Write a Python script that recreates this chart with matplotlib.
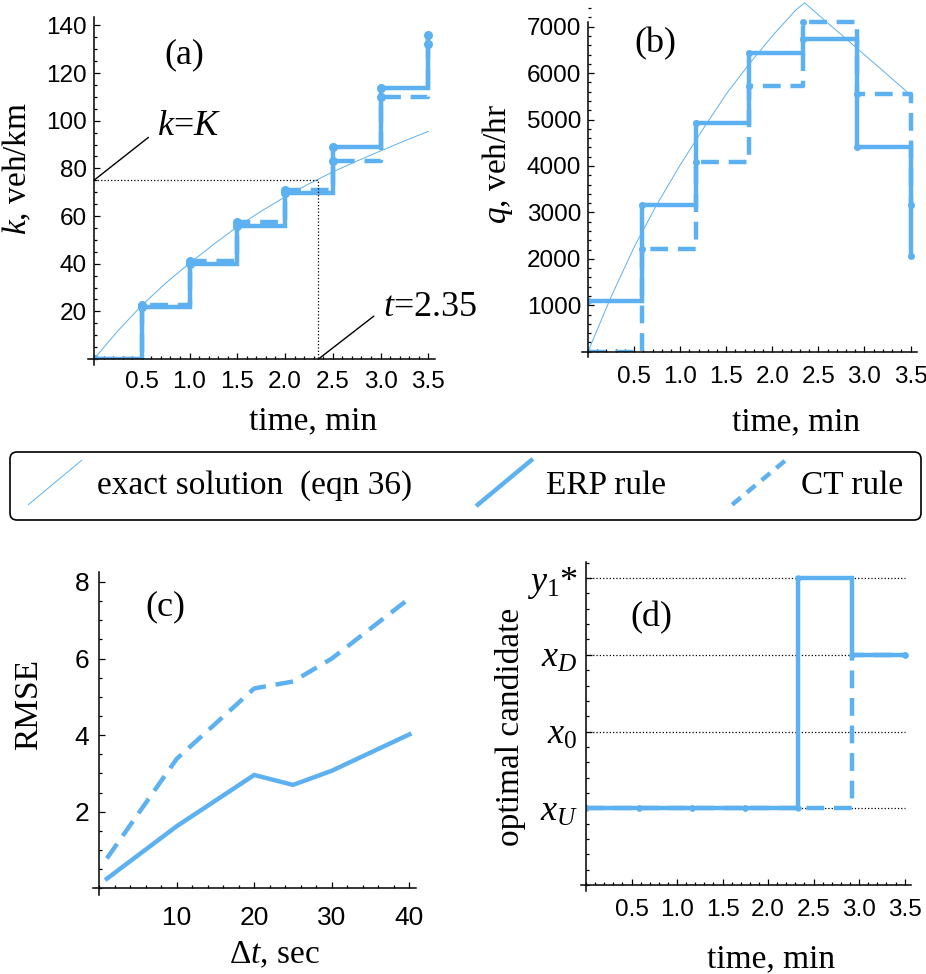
import matplotlib
matplotlib.use('Agg')
import matplotlib.pyplot as plt
from matplotlib.ticker import MultipleLocator
from matplotlib.legend_handler import HandlerBase
from matplotlib.lines import Line2D

plt.rcParams['font.family'] = 'Liberation Serif'
plt.rcParams['mathtext.fontset'] = 'custom'
plt.rcParams['mathtext.rm'] = 'Liberation Serif'
plt.rcParams['mathtext.it'] = 'Liberation Serif:italic'

BLUE = '#5db1f0'

# ---- data ----
# (a) density
t_a = [0, 0.5, 1.0, 1.5, 2.0, 2.5, 3.0, 3.5]
k_erp = [0, 22, 40, 56, 69.5, 89, 113.5, 136]
k_ct = [0, 22.5, 41, 57.5, 71, 83, 110, 132]
t_exact_a = [0, 0.25, 0.5, 0.75, 1.0, 1.25, 1.5, 1.75, 2.0, 2.25, 2.5, 2.75, 3.0, 3.25, 3.5]
k_exact = [0, 11.8, 22.5, 31.8, 40.2, 48, 55.5, 62, 68, 73.5, 78.5, 83, 87.3, 91.5, 95.5]
K_CRIT = 75
T_CRIT = 2.35

# (b) flow
t_b = [0, 0.583, 1.167, 1.75, 2.333, 2.917, 3.5]
q_erp = [1100, 3150, 4920, 6440, 6730, 4400, 2070]
q_ct = [0, 2205, 4090, 5720, 7100, 5560, 3150]
t_exact_b = [0, 0.25, 0.5, 0.75, 1.0, 1.25, 1.5, 1.75, 2.0, 2.25, 2.35, 2.5, 2.75, 3.0, 3.25, 3.5]
q_exact = [0, 1180, 2250, 3180, 4020, 4800, 5550, 6200, 6800, 7350, 7515, 7255, 6825, 6395, 5965, 5530]

# (c) RMSE vs time step
dt = [1, 10, 20, 25, 30, 40]
rmse_erp = [0.25, 1.62, 2.96, 2.70, 3.07, 4.02]
rmse_ct = [0.78, 3.38, 5.22, 5.40, 6.00, 7.57]

# (d) optimal candidate
t_d = [0, 0.583, 1.167, 1.75, 2.333, 2.917, 3.5]
cand_erp = [1, 1, 1, 1, 4, 3, 3]
cand_ct = [1, 1, 1, 1, 1, 3, 3]
cand_ticks = [1, 2, 3, 4]
cand_labels = ['$x_U$', '$x_0$', '$x_D$', '$y_1$*']

W, H = 926, 974
fig = plt.figure(figsize=(W / 100, H / 100), dpi=100)


def px_axes(x0, y0, x1, y1):
    return fig.add_axes([x0 / W, 1 - y1 / H, (x1 - x0) / W, (y1 - y0) / H])


def style(ax, xpad=9, ypad=5, lsize=17.5):
    for s in ['top', 'right']:
        ax.spines[s].set_visible(False)
    for s in ['left', 'bottom']:
        ax.spines[s].set_linewidth(1.1)
    ax.tick_params(which='both', direction='in', width=0.9, labelsize=lsize,
                   labelfontfamily='Liberation Sans')
    ax.tick_params(which='major', length=4)
    ax.tick_params(which='minor', length=2.3)
    ax.tick_params(axis='x', pad=xpad)
    ax.tick_params(axis='y', pad=ypad)


ERP = dict(color=BLUE, lw=3.2, solid_joinstyle='miter')
CT = dict(color=BLUE, lw=3.2, ls=(0, (4, 2.2)))

# ---------- (a) ----------
ax = px_axes(94, 17, 435, 359)
ax.plot(t_exact_a, k_exact, color=BLUE, lw=0.7)
ax.step(t_a, k_ct, where='post', **CT)
ax.plot(t_a, k_ct, 'o', color=BLUE, ms=5.5)
ax.step(t_a, k_erp, where='post', **ERP)
ax.plot(t_a, k_erp, 'o', color=BLUE, ms=5.5)
ax.plot([0, T_CRIT, T_CRIT], [K_CRIT, K_CRIT, 0], ls=':', color='k', lw=0.9)
ax.annotate('', xy=(0, K_CRIT), xytext=(0.57, 93),
            arrowprops=dict(arrowstyle='-', color='k', lw=1, shrinkA=0, shrinkB=0))
ax.text(0.66, 97.6, '$k$=$K$', fontsize=26, ha='left', va='center')
ax.annotate('', xy=(T_CRIT, 0), xytext=(2.93, 18),
            arrowprops=dict(arrowstyle='-', color='k', lw=1, shrinkA=0, shrinkB=0))
ax.text(3.03, 21.5, '$t$=2.35', fontsize=26, ha='left', va='center')
ax.set_xlim(0, 3.57)
ax.set_ylim(0, 143.5)
ax.spines['bottom'].set_bounds(-0.06, 3.57)
ax.spines['left'].set_bounds(-2.5, 143.5)
ax.set_xticks([0.5, 1.0, 1.5, 2.0, 2.5, 3.0, 3.5])
ax.set_yticks([20, 40, 60, 80, 100, 120, 140])
ax.xaxis.set_minor_locator(MultipleLocator(0.1))
ax.yaxis.set_minor_locator(MultipleLocator(5))
style(ax)
ax.set_xlabel('time, min', fontsize=24, va='center')
ax.xaxis.set_label_coords(0.641, -0.18)
ax.set_ylabel('$k$, veh/km', fontsize=24, va='center')
ax.yaxis.set_label_coords(-0.226, 0.556)
ax.text(0.264, 0.889, '(a)', transform=ax.transAxes, fontsize=26, ha='center', va='center')

# ---------- (b) ----------
ax = px_axes(588, 0, 917, 351.7)
ax.plot(t_exact_b, q_exact, color=BLUE, lw=0.7, clip_on=False)
ax.step(t_b, q_ct, where='post', **CT)
ax.plot(t_b, q_ct, 'o', color=BLUE, ms=4)
ax.step(t_b, q_erp, where='post', **ERP)
ax.plot(t_b, q_erp, 'o', color=BLUE, ms=4)
ax.set_xlim(0, 3.57)
ax.set_ylim(0, 7575)
ax.spines['bottom'].set_bounds(-0.06, 3.57)
ax.spines['left'].set_bounds(-120, 7100)
ax.set_xticks([0.5, 1.0, 1.5, 2.0, 2.5, 3.0, 3.5])
ax.set_yticks([1000, 2000, 3000, 4000, 5000, 6000, 7000])
ax.xaxis.set_minor_locator(MultipleLocator(0.1))
ax.yaxis.set_minor_locator(MultipleLocator(200))
style(ax, xpad=10)
ax.set_xlabel('time, min', fontsize=24, va='center')
ax.xaxis.set_label_coords(0.632, -0.2)
ax.set_ylabel('$q$, veh/hr', fontsize=24, va='center')
ax.yaxis.set_label_coords(-0.275, 0.534)
ax.text(0.204, 0.877, '(b)', transform=ax.transAxes, fontsize=26, ha='center', va='center')

# ---------- (c) ----------
ax = px_axes(99.1, 572, 415.6, 888.3)
ax.plot(dt, rmse_ct, **CT)
ax.plot(dt, rmse_erp, color=BLUE, lw=3.2)
ax.set_xlim(0, 40.8)
ax.set_ylim(0, 8.26)
ax.spines['bottom'].set_bounds(-0.75, 40.8)
ax.spines['left'].set_bounds(-0.17, 8.26)
ax.set_xticks([10, 20, 30, 40])
ax.set_yticks([2, 4, 6, 8])
ax.xaxis.set_minor_locator(MultipleLocator(2))
ax.yaxis.set_minor_locator(MultipleLocator(0.5))
style(ax, xpad=13, ypad=7, lsize=19)
ax.set_xlabel('Δ$t$, sec', fontsize=24, va='center')
ax.xaxis.set_label_coords(0.553, -0.211)
ax.set_ylabel('RMSE', fontsize=24, va='center')
ax.yaxis.set_label_coords(-0.221, 0.58)
ax.text(0.208, 0.89, '(c)', transform=ax.transAxes, fontsize=26, ha='center', va='center')

# ---------- (d) ----------
ax = px_axes(586, 562, 911, 885)
ax.hlines(cand_ticks, 0, 3.5, color='k', ls=':', lw=0.9)
ax.step(t_d, cand_ct, where='post', **CT)
ax.plot(t_d, cand_ct, 'o', color=BLUE, ms=3.5)
ax.step(t_d, cand_erp, where='post', **ERP)
ax.plot(t_d, cand_erp, 'o', color=BLUE, ms=3.5)
ax.set_xlim(0, 3.57)
ax.set_ylim(0, 4.21)
ax.spines['bottom'].set_bounds(-0.06, 3.57)
ax.spines['left'].set_bounds(-0.08, 4.21)
ax.set_xticks([0.5, 1.0, 1.5, 2.0, 2.5, 3.0, 3.5])
ax.set_yticks(cand_ticks, cand_labels)
ax.xaxis.set_minor_locator(MultipleLocator(0.1))
ax.yaxis.set_minor_locator(MultipleLocator(0.2))
style(ax, xpad=10, ypad=6)
ax.tick_params(axis='y', labelsize=26, labelfontfamily='Liberation Serif')
ax.set_xlabel('time, min', fontsize=24, va='center')
ax.xaxis.set_label_coords(0.569, -0.229)
ax.set_ylabel('optimal candidate', fontsize=24, va='center')
ax.yaxis.set_label_coords(-0.231, 0.49)
ax.text(0.202, 0.826, '(d)', transform=ax.transAxes, fontsize=26, ha='center', va='center')


# ---------- shared legend with slanted samples ----------
class Slanted(HandlerBase):
    def create_artists(self, legend, orig_handle, xdescent, ydescent,
                       width, height, fontsize, trans):
        line = Line2D([-xdescent, width - xdescent],
                      [-ydescent - 0.45 * height, 1.45 * height - ydescent])
        line.update_from(orig_handle)
        line.set_transform(trans)
        return [line]


handles = [Line2D([], [], color=BLUE, lw=0.7),
           Line2D([], [], color=BLUE, lw=3.2),
           Line2D([], [], color=BLUE, lw=3.2, ls=(0, (2.5, 1.8)))]
labels = ['exact solution  (eqn 36)', 'ERP rule', 'CT rule']
leg = fig.legend(handles, labels, handler_map={Line2D: Slanted()}, ncol=3,
                 loc='center', bbox_to_anchor=(10 / W, 1 - 522 / H, 911 / W, 72 / H),
                 mode='expand', fontsize=24, frameon=True, fancybox=True,
                 edgecolor='k', framealpha=1, handlelength=1.6, handletextpad=0.45,
                 borderaxespad=0, borderpad=0.55)
leg.get_frame().set_linewidth(1.2)

fig.savefig('out.png', dpi=100)
